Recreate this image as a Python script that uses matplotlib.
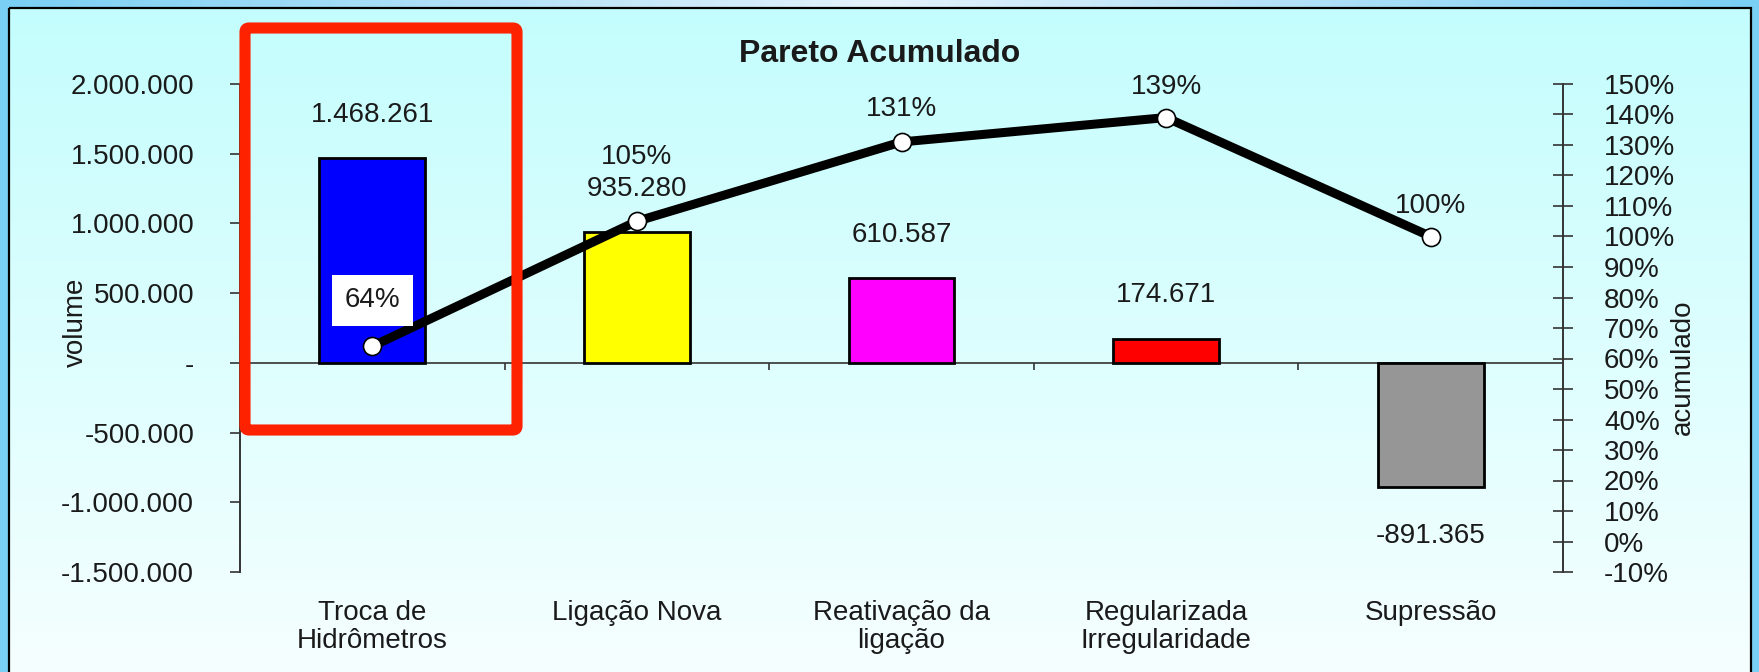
#!/usr/bin/env python3
"""Pareto acumulado: volume bars per service type plus cumulative % line."""

import os

os.environ.setdefault("MPLBACKEND", "Agg")

import matplotlib.pyplot as plt
import numpy as np
from matplotlib.patches import FancyBboxPatch, Rectangle
from matplotlib.ticker import FuncFormatter, MultipleLocator

CATEGORIES = [
    "Troca de\nHidrômetros",
    "Ligação Nova",
    "Reativação da\nligação",
    "Regularizada\nIrregularidade",
    "Supressão",
]
VOLUME = [1468261, 935280, 610587, 174671, -891365]
ACUMULADO = [0.64, 1.05, 1.31, 1.39, 1.00]
BAR_COLORS = ["#0000ff", "#ffff00", "#ff00ff", "#ff0000", "#969696"]

# label offsets above each line point (points) - Excel nudged a couple
LINE_LABEL_OFFSETS = [33, 46, 24, 22, 22]

W, H, DPI = 1759, 672, 100
TEXT = "#1a1a1a"
FS = 20

plt.rcParams["font.family"] = ["Liberation Sans", "DejaVu Sans"]


def fmt_volume(v, _pos=None):
    if abs(v) < 0.5:
        return "-"
    s = f"{abs(v):,.0f}".replace(",", ".")
    return "-" + s if v < 0 else s


def fmt_pct(v, _pos=None):
    return f"{round(v * 100):.0f}%"


fig = plt.figure(figsize=(W / DPI, H / DPI), dpi=DPI)

# --- background frame: blue border, paler at top centre; cyan -> white panel
bg = fig.add_axes([0, 0, 1, 1], zorder=-10)
xs = np.linspace(0, 1, 256)
edge = np.array([0x79, 0xCF, 0xF4]) / 255
mid = np.array([0xE4, 0xF2, 0xFB]) / 255
t = 1 - np.abs(xs - 0.5) * 2
bg.imshow((edge + (mid - edge) * t[:, None])[None, :, :], extent=(0, W, H, 0), aspect="auto")
ys = np.linspace(0, 1, 256)
c0 = np.array([0xC4, 0xFD, 0xFD]) / 255
c1 = np.array([0xF6, 0xFF, 0xFF]) / 255
bg.imshow((c0 + (c1 - c0) * ys[:, None])[:, None, :], extent=(9, 1751, H + 2, 8), aspect="auto")
bg.add_patch(Rectangle((9, 8), 1742, H, fill=False, ec="black", lw=1.6))
bg.set_xlim(0, W)
bg.set_ylim(H, 0)
bg.axis("off")

# --- bars
ax = fig.add_axes([240 / W, 1 - 572 / H, (1563 - 240) / W, (572 - 84) / H])
ax.patch.set_alpha(0)
x = np.arange(len(CATEGORIES))
bars = ax.bar(x, VOLUME, width=0.4, color=BAR_COLORS, edgecolor="black", linewidth=2, zorder=3)
ylo, yhi = -1.5e6, 2.0e6
ax.set_xlim(-0.5, len(CATEGORIES) - 0.5)
ax.set_ylim(ylo, yhi)
ax.yaxis.set_major_locator(MultipleLocator(500000))
ax.yaxis.set_major_formatter(FuncFormatter(fmt_volume))
ax.tick_params(axis="y", direction="out", length=7, width=1.2, pad=26,
               labelsize=FS, labelcolor=TEXT, color="#333333")
ax.set_xticks(x, CATEGORIES, linespacing=1.12)
ax.tick_params(axis="x", length=0, pad=20, labelsize=FS, labelcolor=TEXT)
for side in ("top", "right", "bottom"):
    ax.spines[side].set_visible(False)
ax.spines["left"].set_linewidth(1.4)
ax.spines["left"].set_color("#333333")
ax.axhline(0, color="#333333", lw=1.2, zorder=2)

# category boundary ticks hanging from the zero line
sec = ax.secondary_xaxis((0 - ylo) / (yhi - ylo))
sec.set_xticks(x[:-1] + 0.5)
sec.tick_params(direction="out", length=5, width=1.2, color="#333333",
                labelbottom=False, labeltop=False)
sec.spines[:].set_visible(False)

for b, v in zip(bars, VOLUME):
    off = 31 if v >= 0 else -35
    ax.annotate(fmt_volume(v), (b.get_x() + b.get_width() / 2, v),
                xytext=(0, off), textcoords="offset points",
                ha="center", va="center", fontsize=FS, color=TEXT)

# --- cumulative line
ax2 = ax.twinx()
ax2.set_ylim(-0.10, 1.50)
ax2.plot(x, ACUMULADO, color="black", lw=6.5, marker="o", ms=13,
         mfc="white", mec="black", mew=1.2, zorder=4, solid_capstyle="round")
ax2.yaxis.set_major_locator(MultipleLocator(0.1))
ax2.yaxis.set_major_formatter(FuncFormatter(fmt_pct))
ax2.tick_params(axis="y", direction="inout", length=15, width=1.2, pad=22,
                labelsize=FS, labelcolor=TEXT, color="#333333")
for side in ("top", "left", "bottom"):
    ax2.spines[side].set_visible(False)
ax2.spines["right"].set_linewidth(1.4)
ax2.spines["right"].set_color("#333333")

for i, (xi, v) in enumerate(zip(x, ACUMULADO)):
    box = dict(boxstyle="square,pad=0.45", fc="white", ec="none") if i == 0 else None
    ax2.annotate(fmt_pct(v), (xi, v), xytext=(0, LINE_LABEL_OFFSETS[i]),
                 textcoords="offset points", ha="center", va="center",
                 fontsize=FS, color=TEXT, bbox=box, zorder=5)

# --- titles and axis names
fig.text(880 / W, 1 - 54 / H, "Pareto Acumulado", ha="center", va="center",
         fontsize=23, fontweight="bold", color=TEXT)
fig.text(76 / W, 1 - 322 / H, "volume", rotation=90, ha="center", va="center",
         fontsize=FS, color=TEXT)
fig.text(1683 / W, 1 - 367 / H, "acumulado", rotation=90, ha="center", va="center",
         fontsize=FS, color=TEXT)

# --- red highlight box over the first category
ov = fig.add_axes([0, 0, 1, 1], zorder=10)
ov.patch.set_alpha(0)
ov.set_xlim(0, W)
ov.set_ylim(H, 0)
ov.axis("off")
ov.add_patch(FancyBboxPatch((245, 28), 517 - 245, 430 - 28,
                            boxstyle="round,pad=0,rounding_size=4",
                            fill=False, ec="#ff2200", lw=8, joinstyle="round"))

fig.savefig("out.png", dpi=DPI)
